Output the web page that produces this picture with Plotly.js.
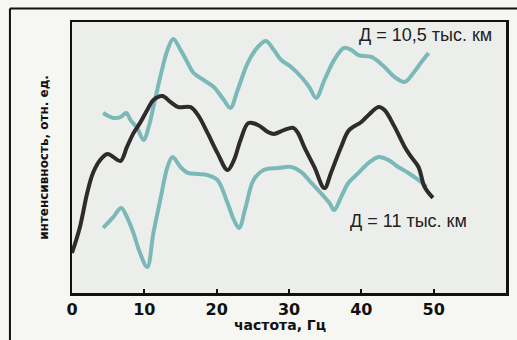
<!DOCTYPE html>
<html><head><meta charset="utf-8">
<script src="https://cdn.plot.ly/plotly-3.0.1.min.js"></script>
<style>html,body{margin:0;padding:0;background:#f6f6f3;}#chart{width:517px;height:340px;}</style>
</head><body><div id="chart"></div>
<script>
// frequency (Hz) and relative intensity readings
const darkX = [0,1.1,2.1,2.9,3.9,4.9,5.7,6.7,7.6,8.5,9.4,10.4,11.25,12.5,13.6,14.7,16.4,17.4,18.75,20.1,21.5,22.4,23.3,24.4,25.7,27.1,27.9,29.3,30.6,31.25,32.1,33.5,34.9,35.8,37.2,38.3,40.0,41.0,42.4,43.2,44.6,46.0,46.9,47.9,48.75,49.9];
const darkY = [14.8,24.4,36.9,44.3,49.1,51.3,50.2,48.7,53.9,59.0,62.7,67.5,71.2,72.7,70.5,68.6,68.6,65.7,59.0,51.7,45.4,49.1,56.5,62.7,62.0,59.4,58.7,60.1,60.9,59.0,53.9,46.5,38.7,44.3,53.9,60.1,63.1,65.7,68.6,67.5,61.3,53.9,50.2,46.5,39.1,35.1];

const d105X = [4.3,5.7,6.7,7.5,8.1,9.0,9.9,10.6,11.25,12.2,13.2,14.0,15.0,16.0,16.8,18.2,19.6,21.0,21.9,22.9,24.3,25.7,26.8,27.9,28.9,30.3,31.7,32.8,33.75,34.9,36.25,37.6,38.6,39.6,41.4,43.2,44.6,46.0,47.2,48.3,49.3];
const d105Y = [66.4,64.6,64.9,66.4,63.8,60.9,56.5,61.3,68.6,79.7,89.7,93.7,89.7,84.9,81.2,78.6,76.0,71.2,68.3,74.9,84.9,90.8,93.0,89.7,86.0,83.4,79.7,76.0,72.0,78.6,86.0,90.4,89.7,87.8,87.1,83.4,79.7,77.9,81.2,85.2,88.6];

const d11X = [4.3,5.7,6.8,7.6,8.5,9.4,10.4,11.25,12.2,13.2,13.9,15.0,16.0,17.4,18.75,20.1,21.5,22.4,23.1,24.0,25.1,26.5,28.5,30.3,31.7,33.1,34.4,35.6,36.25,37.2,38.2,39.6,41.0,42.4,43.75,45.1,46.5,47.9,49.0];
const d11Y = [24.0,28.0,31.4,28.0,22.1,14.8,9.6,22.1,34.3,46.5,50.2,46.5,44.3,43.9,43.5,41.7,33.2,26.9,24.0,31.7,41.7,45.4,46.1,46.5,44.6,40.6,36.9,33.2,30.6,35.4,40.6,44.3,48.0,50.2,49.1,46.5,44.3,41.7,39.1];

const xTicks = [0,10,20,30,40,50];
const labels = ["Д = 10,5 тыс. км", "Д = 11 тыс. км"];
const xTitle = "частота, Гц";
const yTitle = "интенсивность, отн. ед.";

const teal = "#7bb9b9";
const dark = "#2f2b2b";
const font = "Liberation Sans, Arial, sans-serif";
const boldFont = "DejaVu Sans, sans-serif";

const traces = [
  {x:d105X, y:d105Y, mode:"lines", line:{color:teal, width:4, shape:"spline", smoothing:1}, hoverinfo:"skip"},
  {x:d11X, y:d11Y, mode:"lines", line:{color:teal, width:4, shape:"spline", smoothing:1}, hoverinfo:"skip"},
  {x:darkX, y:darkY, mode:"lines", line:{color:dark, width:4, shape:"spline", smoothing:1}, hoverinfo:"skip"}
];

const layout = {
  width:517, height:340,
  margin:{l:72, r:11, t:22, b:47},
  paper_bgcolor:"#f6f6f3",
  plot_bgcolor:"#eceeec",
  showlegend:false,
  xaxis:{range:[0,60], tickvals:xTicks, ticktext:xTicks.map(String), ticks:"inside", ticklen:4, tickwidth:2, tickcolor:"#111",
    showline:true, linecolor:"#111", linewidth:2.5, mirror:true, showgrid:false, zeroline:false,
    tickfont:{family:boldFont, size:16, color:"#111", weight:"bold"}},
  yaxis:{range:[0,100], showticklabels:false, ticks:"", showline:true, linecolor:"#111", linewidth:2.5, mirror:true,
    showgrid:false, zeroline:false,
    title:{text:yTitle, font:{family:boldFont, size:12, color:"#111", weight:"bold"}, standoff:19}},
  annotations:[
    {x:48.9, y:95.3, xref:"x", yref:"y", text:labels[0], showarrow:false, xanchor:"center", font:{family:font, size:18, color:"#222"}},
    {x:46.5, y:26.5, xref:"x", yref:"y", text:labels[1], showarrow:false, xanchor:"center", font:{family:font, size:18, color:"#222"}},
    {x:0.479, y:-0.118, xref:"paper", yref:"paper", text:xTitle, showarrow:false, xanchor:"center", yanchor:"middle",
      font:{family:boldFont, size:14, color:"#111", weight:"bold"}}
  ],
  shapes:[
    {type:"line", xref:"paper", yref:"paper", x0:-0.143, x1:-0.143, y0:1.05, y1:-0.2, line:{color:"#111", width:2}},
    {type:"line", xref:"paper", yref:"paper", x0:-0.143, x1:1.03, y0:1.05, y1:1.05, line:{color:"#111", width:2}}
  ]
};

Plotly.newPlot("chart", traces, layout, {staticPlot:true, displayModeBar:false});
</script></body></html>
